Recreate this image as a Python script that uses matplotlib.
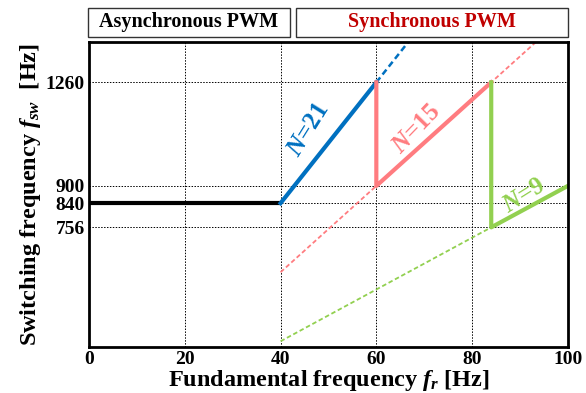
import matplotlib.pyplot as plt
from matplotlib.patches import Rectangle

plt.rcParams['font.family'] = 'Liberation Serif'
plt.rcParams['font.weight'] = 'bold'
plt.rcParams['mathtext.fontset'] = 'custom'
plt.rcParams['mathtext.it'] = 'Liberation Serif:italic:bold'
plt.rcParams['mathtext.rm'] = 'Liberation Serif:bold'

# data
x_ticks = [0, 20, 40, 60, 80, 100]
y_ticks = [756, 840, 900, 1260]
async_x = [0, 40]
async_y = [840, 840]
n21_x = [40, 60]
n21_y = [840, 1260]
n21_dash_x = [60, 1400 / 21]
n21_dash_y = [1260, 1400]
n15_x = [60, 60, 84]
n15_y = [1260, 900, 1260]
n15_dash_x = [40, 1400 / 15]
n15_dash_y = [600, 1400]
n9_x = [84, 84, 100]
n9_y = [1260, 756, 900]
n9_dash_x = [40, 84]
n9_dash_y = [360, 756]

blue = '#0070C0'
red = '#FF7C80'
green = '#92D050'

fig = plt.figure(figsize=(5.86, 3.93), dpi=100)
ax = fig.add_axes([0.152, 0.117, 0.817, 0.776])

ax.plot(n21_dash_x, n21_dash_y, color=blue, lw=1.8, ls=(0, (2.5, 1.5)))
ax.plot(n15_dash_x, n15_dash_y, color=red, lw=1.3, ls=(0, (2.5, 1.5)))
ax.plot(n9_dash_x, n9_dash_y, color=green, lw=1.3, ls=(0, (2.5, 1.5)))
ax.plot(async_x, async_y, color='black', lw=3, solid_capstyle='butt')
ax.plot(n21_x, n21_y, color=blue, lw=3)
ax.plot(n15_x, n15_y, color=red, lw=3)
ax.plot(n9_x, n9_y, color=green, lw=3)

ax.text(45.8, 1095, '$N$=21', color=blue, fontsize=18, rotation=58,
        ha='center', va='center')
ax.text(68.3, 1099, '$N$=15', color=red, fontsize=18, rotation=46,
        ha='center', va='center')
ax.text(90.8, 866, '$N$=9', color=green, fontsize=18, rotation=32,
        ha='center', va='center')

ax.set_xlim(0, 100)
ax.set_ylim(340, 1400)
ax.set_xticks(x_ticks)
ax.set_yticks(y_ticks)
ax.tick_params(length=0, labelsize=14, pad=3)
for lab in ax.get_xticklabels() + ax.get_yticklabels():
    lab.set_fontweight('bold')
ax.grid(True, color='black', ls=(0, (1.5, 1.5)), lw=0.7)
for s in ax.spines.values():
    s.set_linewidth(2)

ax.set_xlabel('Fundamental frequency $f_r$ [Hz]', fontsize=17.5, fontweight='bold', labelpad=0)
ax.set_ylabel('Switching frequency $f_{sw}$  [Hz]', fontsize=17.5, fontweight='bold', labelpad=2)

# header boxes
fig.patches.append(Rectangle((88 / 586, 1 - 37 / 393), 202 / 586, 29 / 393,
                             transform=fig.transFigure, fill=False, lw=1, ec='#333333'))
fig.patches.append(Rectangle((296 / 586, 1 - 37 / 393), 272 / 586, 29 / 393,
                             transform=fig.transFigure, fill=False, lw=1, ec='#333333'))
fig.text(189 / 586, 1 - 22 / 393, 'Asynchronous PWM', ha='center', va='center',
         fontsize=14.5, fontweight='bold', color='black')
fig.text(432 / 586, 1 - 22 / 393, 'Synchronous PWM', ha='center', va='center',
         fontsize=14.5, fontweight='bold', color='#C00000')

fig.savefig('out.png', dpi=100)
